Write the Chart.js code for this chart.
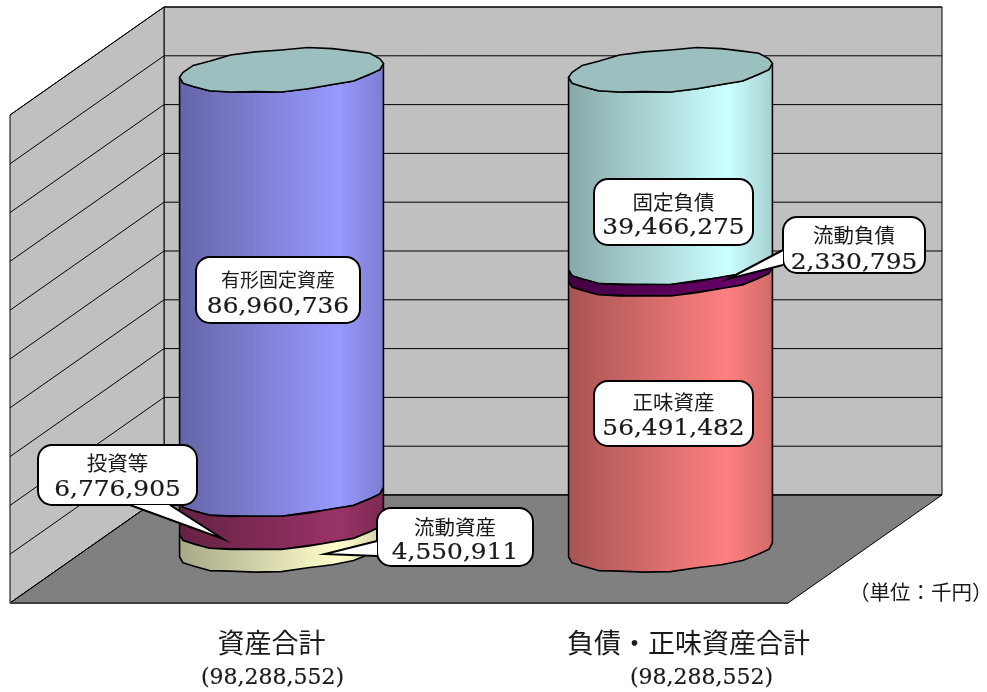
<!DOCTYPE html>
<html lang="ja">
<head>
<meta charset="utf-8">
<title>資産合計</title>
<script src="https://cdn.jsdelivr.net/npm/chart.js@4"></script>
<style>
  html, body { margin: 0; padding: 0; background: #fff; }
  canvas { display: block; }
</style>
</head>
<body>
<canvas id="chart" width="987" height="692"></canvas>
<script>
const categories = ['資産合計', '負債・正味資産合計'];
const totalLabels = ['(98,288,552)', '(98,288,552)'];
const unitLabel = '（単位：千円）';

const currentAssets = [4550911, null];
const investments = [6776905, null];
const fixedAssets = [86960736, null];
const netAssets = [null, 56491482];
const currentLiabilities = [null, 2330795];
const fixedLiabilities = [null, 39466275];

const CJK = '"Noto Sans CJK JP", "Noto Sans", sans-serif';
const NUM = '"DejaVu Serif", "Liberation Serif", serif';

// cylinders sit half way into the box, so walls are drawn with this shift
const BACK = { x: 77, y: -55 };
const FRONT = { x: -77, y: 53 };
const TILT = 7;
const RY = 21;
const WOBBLE = [0, 0.6, -0.5, 0.6, 0, -0.8, 0.6, 0, -0.6, 0.8, -0.5, 0.6, 0];

// the category captions are not centred under the cylinders in the original
const nameOffsets = [-10, 18];
const totalOffsets = [-9, 31];

function shade(hex, k) {
    const n = parseInt(hex.slice(1), 16);
    const c = [n >> 16, (n >> 8) & 255, n & 255].map(v => Math.round(v * k));
    return `rgb(${c[0]},${c[1]},${c[2]})`;
}

function arcPoints(cx, level, rx, from, to) {
    const pts = [];
    const steps = WOBBLE.length - 1;
    for (let i = 0; i <= steps; i++) {
        const t = from + (to - from) * i / steps;
        const w = (i === 0 || i === steps) ? 0 : WOBBLE[i];
        pts.push([cx + rx * Math.cos(t), level - TILT * Math.cos(t) + RY * Math.sin(t) + w]);
    }
    return pts;
}

// bars are drawn as a slice of a cylinder instead of a rectangle
Chart.BarElement.prototype.draw = function (ctx) {
    if (isNaN(this.y) || isNaN(this.base)) return;
    const rx = this.width / 2;
    const top = arcPoints(this.x, this.y, rx, Math.PI, 0);
    const bottom = arcPoints(this.x, this.base, rx, 0, Math.PI);
    const color = this.options.backgroundColor;

    const grad = ctx.createLinearGradient(this.x - rx, 0, this.x + rx, 0);
    grad.addColorStop(0, shade(color, 0.66));
    grad.addColorStop(0.78, shade(color, 1));
    grad.addColorStop(1, shade(color, 0.82));

    ctx.save();
    ctx.beginPath();
    top.concat(bottom).forEach((p, i) => i ? ctx.lineTo(p[0], p[1]) : ctx.moveTo(p[0], p[1]));
    ctx.closePath();
    ctx.fillStyle = grad;
    ctx.fill();
    ctx.lineWidth = 1.6;
    ctx.strokeStyle = '#000';
    ctx.lineJoin = 'round';
    ctx.stroke();
    ctx.restore();
};

const wallsPlugin = {
    id: 'walls',
    beforeDatasetsDraw(chart) {
        const { ctx, chartArea: a, scales: { y } } = chart;
        const bl = a.left + BACK.x, br = a.right + BACK.x;
        const fl = a.left + FRONT.x, fr = a.right + FRONT.x;
        const yTop = a.top, yBot = a.bottom;

        function poly(pts, fill) {
            ctx.beginPath();
            pts.forEach((p, i) => i ? ctx.lineTo(p[0], p[1]) : ctx.moveTo(p[0], p[1]));
            ctx.closePath();
            ctx.fillStyle = fill;
            ctx.fill();
            ctx.stroke();
        }

        ctx.save();
        ctx.lineWidth = 1;
        ctx.strokeStyle = '#000';
        poly([[bl, yTop + BACK.y], [br, yTop + BACK.y], [br, yBot + BACK.y], [bl, yBot + BACK.y]], '#c0c0c0');
        poly([[fl, yTop + FRONT.y], [bl, yTop + BACK.y], [bl, yBot + BACK.y], [fl, yBot + FRONT.y]], '#c0c0c0');
        poly([[fl, yBot + FRONT.y], [bl, yBot + BACK.y], [br, yBot + BACK.y], [fr, yBot + FRONT.y]], '#808080');

        y.ticks.forEach(t => {
            const py = y.getPixelForValue(t.value);
            ctx.beginPath();
            ctx.moveTo(fl, py + FRONT.y);
            ctx.lineTo(bl, py + BACK.y);
            ctx.lineTo(br, py + BACK.y);
            ctx.stroke();
        });
        ctx.strokeStyle = '#404040';
        ctx.lineWidth = 2;
        ctx.beginPath();
        ctx.moveTo(fl, yBot + FRONT.y);
        ctx.lineTo(fr, yBot + FRONT.y);
        ctx.stroke();
        ctx.restore();
    }
};

// dataset index, category index, box and tail of each speech bubble
const callouts = [
    { ds: 2, cat: 0, size: 19, box: [196, 257, 164, 66], lineY: [280, 307] },
    { ds: 1, cat: 0, size: 20.5, box: [38, 445, 159, 60], lineY: [463, 490], tail: [[130, 505], [223, 539], [170, 505]] },
    { ds: 0, cat: 0, size: 20.5, box: [377, 508, 156, 58], lineY: [527, 553], tail: [[377, 541], [325, 554], [377, 556]] },
    { ds: 5, cat: 1, size: 20.5, box: [594, 179, 159, 66], lineY: [202, 228] },
    { ds: 4, cat: 1, size: 20.5, box: [783, 217, 142, 56], lineY: [235, 263], tail: [[783, 250], [728, 279], [783, 265]] },
    { ds: 3, cat: 1, size: 20.5, box: [594, 381, 159, 65], lineY: [402, 429] }
];

function stretchedText(ctx, text, x, y, sx) {
    ctx.save();
    ctx.translate(x, y);
    ctx.scale(sx, 1);
    ctx.fillText(text, 0, 0);
    ctx.lineWidth = 0.2;
    ctx.strokeStyle = ctx.fillStyle;
    ctx.strokeText(text, 0, 0);
    ctx.restore();
}

const overlayPlugin = {
    id: 'overlay',
    afterDatasetsDraw(chart) {
        const { ctx, data, scales: { x } } = chart;
        ctx.save();

        // top of each cylinder
        categories.forEach((c, cat) => {
            let last = null;
            data.datasets.forEach((d, i) => { if (d.data[cat] !== null) last = i; });
            const el = chart.getDatasetMeta(last).data[cat];
            const rx = el.width / 2;
            const pts = arcPoints(el.x, el.y, rx, Math.PI, 0)
                .concat(arcPoints(el.x, el.y, rx, 0, -Math.PI));
            ctx.beginPath();
            pts.forEach((p, i) => i ? ctx.lineTo(p[0], p[1]) : ctx.moveTo(p[0], p[1]));
            ctx.closePath();
            ctx.fillStyle = '#9cc0c0';
            ctx.fill();
            ctx.lineWidth = 1.6;
            ctx.strokeStyle = '#000';
            ctx.stroke();
        });

        callouts.forEach(c => {
            const [bx, by, w, h] = c.box;
            const ds = data.datasets[c.ds];
            ctx.beginPath();
            ctx.roundRect(bx, by, w, h, 14);
            ctx.fillStyle = '#fff';
            ctx.fill();
            ctx.lineWidth = 2;
            ctx.strokeStyle = '#000';
            ctx.stroke();
            if (c.tail) {
                ctx.beginPath();
                ctx.moveTo(c.tail[0][0], c.tail[0][1]);
                ctx.lineTo(c.tail[1][0], c.tail[1][1]);
                ctx.lineTo(c.tail[2][0], c.tail[2][1]);
                ctx.fill();
                ctx.stroke();
            }
            ctx.fillStyle = '#1a1a1a';
            ctx.textAlign = 'center';
            ctx.textBaseline = 'middle';
            ctx.font = c.size + 'px ' + CJK;
            ctx.fillText(ds.label, bx + w / 2, c.lineY[0]);
            ctx.font = '22px ' + NUM;
            stretchedText(ctx, ds.data[c.cat].toLocaleString('en-US'), bx + w / 2, c.lineY[1], 1.13);
        });

        ctx.fillStyle = '#1a1a1a';
        ctx.textAlign = 'center';
        ctx.textBaseline = 'middle';
        categories.forEach((c, i) => {
            const px = x.getPixelForTick(i);
            ctx.font = '27px ' + CJK;
            ctx.fillText(c, px + nameOffsets[i], 643);
            ctx.font = '22px ' + NUM;
            stretchedText(ctx, totalLabels[i], px + totalOffsets[i], 678, 1);
        });

        ctx.textAlign = 'left';
        ctx.font = '20.5px ' + CJK;
        ctx.fillText(unitLabel, 849, 592);
        ctx.restore();
    }
};

function segment(label, data, color) {
    return { label: label, data: data, backgroundColor: color, stack: 'total', clip: false };
}

new Chart(document.getElementById('chart'), {
    type: 'bar',
    data: {
        labels: categories,
        datasets: [
            segment('流動資産', currentAssets, '#ffffcc'),
            segment('投資等', investments, '#993366'),
            segment('有形固定資産', fixedAssets, '#9999ff'),
            segment('正味資産', netAssets, '#ff8080'),
            segment('流動負債', currentLiabilities, '#660066'),
            segment('固定負債', fixedLiabilities, '#ccffff')
        ]
    },
    plugins: [wallsPlugin, overlayPlugin],
    options: {
        responsive: false,
        animation: false,
        devicePixelRatio: 1,
        categoryPercentage: 0.524,
        barPercentage: 1,
        layout: { padding: { left: 87, right: 122, top: 62, bottom: 0 } },
        plugins: {
            legend: { display: false },
            tooltip: { enabled: false }
        },
        scales: {
            x: {
                stacked: true,
                grid: { display: false, drawTicks: false },
                border: { display: false },
                ticks: { display: false },
                afterFit(scale) { scale.height = 142; }
            },
            y: {
                stacked: true,
                min: 0,
                max: 100000000,
                grid: { display: false, drawTicks: false },
                border: { display: false },
                ticks: { display: false, stepSize: 10000000 },
                afterFit(scale) { scale.width = 0; }
            }
        }
    }
});
</script>
</body>
</html>
